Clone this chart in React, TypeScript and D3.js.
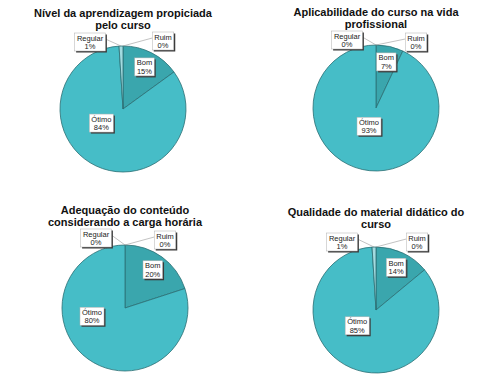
import { useEffect, useRef } from "react";
import * as d3 from "d3";

// slice order, clockwise from 12 o'clock
const categories = ["Ruim", "Bom", "Ótimo", "Regular"];

const titles = [
  ["Nível da aprendizagem propiciada", "pelo curso"],
  ["Aplicabilidade do curso na vida", "profissional"],
  ["Adequação do conteúdo", "considerando a carga horária"],
  ["Qualidade do material didático do", "curso"],
];

const aprendizagem = [0, 15, 84, 1];
const aplicabilidade = [0, 7, 93, 0];
const adequacao = [0, 20, 80, 0];
const material = [0, 14, 85, 1];

const series = [aprendizagem, aplicabilidade, adequacao, material];

const colors: Record<string, string> = {
  Ruim: "#2f8f96",
  Bom: "#3aa6ad",
  "Ótimo": "#46bdc7",
  Regular: "#a3dbe0",
};

// panel layout: pie centre + title baseline
const panels = [
  { cx: 123, cy: 109, ty: 17 },
  { cx: 376, cy: 108, ty: 16 },
  { cx: 125, cy: 308, ty: 214 },
  { cx: 376, cy: 310, ty: 216 },
];

// Ótimo label placement (angle in degrees, distance as fraction of radius)
const otimoPos = [
  [237, 0.41],
  [201, 0.31],
  [256, 0.54],
  [230, 0.39],
];

// outside label boxes relative to centre
const outside: Record<string, number[][]> = {
  Regular: [[-33, -67], [-29, -68], [-29, -70], [-34, -68]],
  Ruim: [[40, -68], [40, -66], [40, -68], [41, -68]],
};

function App() {
  const svgRef = useRef<SVGSVGElement>(null);

  useEffect(() => {
    if (!svgRef.current) return;
    const svg = d3.select(svgRef.current);
    svg.selectAll("*").remove();

    const r = 63;
    const pie = d3
      .pie<number>()
      .sort(null)
      .value((d) => d);
    const arc = d3.arc<d3.PieArcDatum<number>>().innerRadius(0).outerRadius(r);
    const labelArc = d3
      .arc<d3.PieArcDatum<number>>()
      .innerRadius(r * 0.75)
      .outerRadius(r * 0.75);

    const drawBox = (
      g: d3.Selection<SVGGElement, unknown, null, undefined>,
      x: number,
      y: number,
      lines: string[]
    ) => {
      const box = g.append("g").attr("transform", `translate(${x},${y})`);
      const shadow = box.append("rect").attr("fill", "#3a3a3a");
      const bg = box
        .append("rect")
        .attr("fill", "#fff")
        .attr("stroke", "#b0b0b0")
        .attr("stroke-width", 0.5);
      const t = box
        .append("text")
        .attr("text-anchor", "middle")
        .attr("font-family", "Liberation Sans, Arial, sans-serif")
        .attr("font-size", 7.5)
        .attr("fill", "#222");
      lines.forEach((l, i) => {
        t.append("tspan")
          .attr("x", 0)
          .attr("y", -1.5 + i * 8.5)
          .text(l);
      });
      const bb = (t.node() as SVGTextElement).getBBox();
      const w = bb.width + 4;
      const h = 18;
      bg.attr("x", -w / 2).attr("y", -h / 2).attr("width", w).attr("height", h);
      shadow
        .attr("x", -w / 2 + 1.5)
        .attr("y", -h / 2 + 1.5)
        .attr("width", w)
        .attr("height", h);
      return { w, h };
    };

    series.forEach((values, i) => {
      const p = panels[i];
      const g = svg.append("g");

      const title = g
        .append("text")
        .attr("text-anchor", "middle")
        .attr("font-family", "Liberation Sans, Arial, sans-serif")
        .attr("font-weight", "bold")
        .attr("font-size", 11)
        .attr("fill", "#111");
      titles[i].forEach((l, j) => {
        title
          .append("tspan")
          .attr("x", p.cx)
          .attr("y", p.ty + j * 12)
          .text(l);
      });

      const pg = g.append("g").attr("transform", `translate(${p.cx},${p.cy})`);
      const arcs = pie(values);

      pg.selectAll("path")
        .data(arcs.filter((a) => a.value > 0))
        .enter()
        .append("path")
        .attr("d", arc)
        .attr("fill", (d) => colors[categories[d.index]])
        .attr("stroke", "#2b6f74")
        .attr("stroke-width", 0.8);

      arcs.forEach((a) => {
        const cat = categories[a.index];
        const text = [cat, `${a.value}%`];
        if (cat === "Bom") {
          const [x, y] = labelArc.centroid(a);
          drawBox(pg, x, y, text);
        } else if (cat === "Ótimo") {
          const [ang, f] = otimoPos[i];
          const rad = (ang * Math.PI) / 180;
          drawBox(pg, Math.sin(rad) * r * f, -Math.cos(rad) * r * f, text);
        } else {
          const [bx, by] = outside[cat][i];
          const mid = (a.startAngle + a.endAngle) / 2;
          const px = Math.sin(mid) * r;
          const py = -Math.cos(mid) * r;
          const side = bx < 0 ? 1 : -1;
          const line = pg.append("line").attr("stroke", "#999").attr("stroke-width", 0.6);
          const { w } = drawBox(pg, bx, by, text);
          line
            .attr("x1", bx + (side * w) / 2)
            .attr("y1", by - 3)
            .attr("x2", px)
            .attr("y2", py);
        }
      });
    });
  }, []);

  return (
    <svg
      ref={svgRef}
      width={500}
      height={390}
      style={{ position: "absolute", left: 0, top: 0, background: "#fff" }}
    ></svg>
  );
}

export default App;
